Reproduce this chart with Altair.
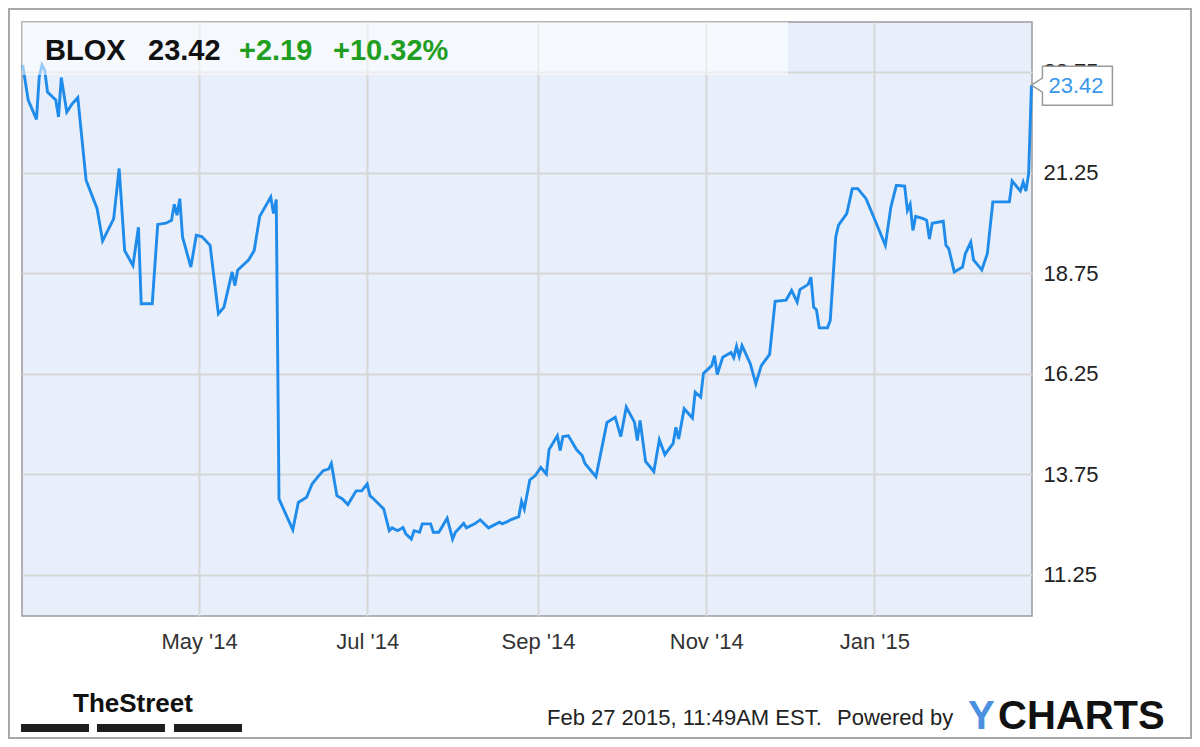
import altair as alt
import pandas as pd

# ---------------- data ----------------
TICKER = "BLOX"
LAST_PRICE = 23.42
CHANGE = 2.19
CHANGE_PCT = 10.32
TIMESTAMP = "Feb 27 2015, 11:49AM EST."
START = "2014-02-26"

DAYS = [0, 2, 5, 6, 7, 8, 9, 12, 13, 14,
        16, 18, 20, 23, 27, 29, 33, 35, 37, 40,
        42, 43, 47, 49, 52, 54, 55, 56, 57, 58,
        61, 63, 65, 68, 71, 73, 76, 77, 78, 82,
        84, 86, 90, 91, 92, 93, 98, 100, 103, 105,
        107, 109, 111, 112, 114, 116, 118, 121, 123, 125,
        126, 127, 131, 133, 134, 136, 138, 139, 141, 142,
        144, 145, 148, 149, 151, 154, 156, 157, 160, 161,
        164, 166, 169, 173, 174, 176, 177, 180, 181, 182,
        184, 186, 188, 190, 191, 194, 195, 196, 198, 201,
        203, 204, 208, 212, 215, 217, 219, 222, 223, 224,
        226, 229, 231, 233, 236, 237, 238, 240, 243, 244,
        246, 247, 250, 251, 252, 254, 257, 258, 259, 260,
        261, 264, 266, 268, 271, 273, 277, 279, 281, 282,
        285, 286, 287, 288, 289, 292, 293, 295, 296, 299,
        301, 303, 306, 310, 313, 315, 317, 320, 321, 322,
        323, 324, 327, 328, 329, 330, 334, 335, 336, 338,
        341, 342, 344, 345, 348, 350, 352, 358, 359, 362,
        363, 364, 365, 366]

PRICES = [23.92, 23.05, 22.57, 23.63, 23.92, 23.79, 23.25, 23.05, 22.63, 23.61,
          22.75, 22.96, 23.11, 21.06, 20.35, 19.55, 20.10, 21.35, 19.31, 18.94,
          19.89, 17.99, 17.99, 19.96, 19.99, 20.06, 20.46, 20.19, 20.60, 19.65,
          18.90, 19.69, 19.66, 19.44, 17.74, 17.90, 18.78, 18.44, 18.82, 19.08,
          19.31, 20.16, 20.64, 20.23, 20.58, 13.14, 12.37, 13.05, 13.18, 13.51,
          13.68, 13.84, 13.88, 14.02, 13.22, 13.14, 13.00, 13.34, 13.34, 13.51,
          13.22, 13.16, 12.89, 12.35, 12.42, 12.35, 12.43, 12.27, 12.14, 12.35,
          12.31, 12.52, 12.52, 12.31, 12.31, 12.66, 12.14, 12.31, 12.53, 12.42,
          12.52, 12.62, 12.42, 12.56, 12.52, 12.58, 12.62, 12.70, 13.08, 12.89,
          13.61, 13.72, 13.92, 13.76, 14.37, 14.71, 14.34, 14.69, 14.71, 14.36,
          14.22, 14.02, 13.69, 15.04, 15.17, 14.69, 15.42, 15.04, 14.59, 15.09,
          14.07, 13.82, 14.61, 14.24, 14.52, 14.92, 14.63, 15.38, 15.15, 15.79,
          15.67, 16.26, 16.45, 16.70, 16.23, 16.66, 16.78, 16.65, 16.93, 16.68,
          16.95, 16.50, 16.00, 16.45, 16.73, 18.05, 18.08, 18.32, 18.03, 18.34,
          18.47, 18.65, 17.90, 17.84, 17.39, 17.39, 17.57, 19.65, 19.94, 20.23,
          20.85, 20.85, 20.60, 19.94, 19.44, 20.39, 20.93, 20.91, 20.31, 20.46,
          19.81, 20.16, 20.10, 20.06, 19.60, 19.99, 20.04, 19.44, 19.36, 18.78,
          18.90, 19.23, 19.52, 19.08, 18.83, 19.23, 20.52, 20.52, 21.04, 20.79,
          21.01, 20.79, 21.22, 23.42]

Y_TICKS = [11.25, 13.75, 16.25, 18.75, 21.25, 23.75]
X_TICK_MONTHS = [(2014, 5), (2014, 7), (2014, 9), (2014, 11), (2015, 1)]

# ---------------- styling ----------------
FONT = "Liberation Sans, Arial, Helvetica, sans-serif"
LINE_BLUE = "#1f8beb"
GREEN = "#1f9e1f"

df = pd.DataFrame({
    "date": pd.Timestamp(START) + pd.to_timedelta(DAYS, unit="D"),
    "price": PRICES,
})
last = df.tail(1)
one = pd.DataFrame({"k": [0]})

x_enc = alt.X(
    "date:T",
    scale=alt.Scale(domain=[alt.DateTime(year=2014, month=2, date=25, hours=18),
                            alt.DateTime(year=2015, month=2, date=27, hours=5)]),
    axis=alt.Axis(
        values=[alt.DateTime(year=y, month=m, date=1) for y, m in X_TICK_MONTHS],
        format="%b '%y", title=None, ticks=False, domain=False,
        labelFontSize=22, labelColor="#333333", labelFont=FONT,
        labelPadding=15, labelOverlap=False, labelFlush=False,
        gridColor="#d6d6d6", gridWidth=2,
    ),
)
y_enc = alt.Y(
    "price:Q",
    scale=alt.Scale(domain=[10.23, 24.99], nice=False, zero=False),
    axis=alt.Axis(
        orient="right", values=Y_TICKS, format=".2f", title=None,
        ticks=False, domain=False, labelFontSize=22, labelColor="#222222",
        labelFont=FONT, labelPadding=11, labelOverlap=False, labelFlush=False,
        gridColor="#d6d6d6", gridWidth=2,
    ),
)

line = alt.Chart(df).mark_line(color=LINE_BLUE, strokeWidth=2.9).encode(x=x_enc, y=y_enc)

header_band = alt.Chart(one).mark_rect(fill="white", opacity=0.55).encode(
    x=alt.value(0), x2=alt.value(766), y=alt.value(0), y2=alt.value(53))

header_items = [
    (TICKER, 23, "#111111"),
    (f"{LAST_PRICE:.2f}", 126, "#111111"),
    (f"+{CHANGE:.2f}", 217, GREEN),
    (f"+{CHANGE_PCT:.2f}%", 311, GREEN),
]
header_texts = [
    alt.Chart(pd.DataFrame({"t": [txt]})).mark_text(
        font=FONT, fontSize=29, fontWeight="bold", color=col,
        align="left", baseline="alphabetic",
    ).encode(x=alt.value(xp), y=alt.value(38), text="t:N")
    for txt, xp, col in header_items
]

callout_box = alt.Chart(last).mark_point(
    shape="M0,0 L11,-7 L11,-19 L81,-19 L81,20 L11,20 L11,7 Z",
    size=4, filled=True, fill="white", stroke="#9a9a9a", strokeWidth=1.5, opacity=1,
).encode(x=x_enc, y=y_enc)

callout_text = alt.Chart(last).mark_text(
    font=FONT, fontSize=22, color="#3a98ec", align="left", baseline="middle", dx=17, dy=1,
).encode(x=x_enc, y=y_enc, text=alt.Text("price:Q", format=".2f"))

street = alt.Chart(pd.DataFrame({"t": ["TheStreet"]})).mark_text(
    font=FONT, fontSize=26, fontWeight="bold", color="#111111",
    align="left", baseline="alphabetic",
).encode(x=alt.value(51), y=alt.value(690), text="t:N")

bars = [
    alt.Chart(one).mark_rect(fill="#1e1e1e").encode(
        x=alt.value(a), x2=alt.value(b), y=alt.value(702), y2=alt.value(710))
    for a, b in [(-1, 67), (75, 143), (152, 220)]
]

stamp = alt.Chart(pd.DataFrame({"t": [TIMESTAMP]})).mark_text(
    font=FONT, fontSize=22, color="#222222", align="left", baseline="middle",
).encode(x=alt.value(525), y=alt.value(696), text="t:N")

powered = alt.Chart(pd.DataFrame({"t": ["Powered by"]})).mark_text(
    font=FONT, fontSize=22, color="#222222", align="left", baseline="middle",
).encode(x=alt.value(815), y=alt.value(696), text="t:N")

logo_y = alt.Chart(pd.DataFrame({"t": ["Y"]})).mark_text(
    font=FONT, fontSize=40, fontWeight="bold", color="#4a8fe0",
    align="left", baseline="middle",
).encode(x=alt.value(946), y=alt.value(695), text="t:N")

logo_rest = alt.Chart(pd.DataFrame({"t": ["CHARTS"]})).mark_text(
    font=FONT, fontSize=40, fontWeight="bold", color="#111111",
    align="left", baseline="middle",
).encode(x=alt.value(976), y=alt.value(695), text="t:N")

frame = alt.Chart(one).mark_rect(fill="transparent", stroke="#a8a8a8", strokeWidth=2).encode(
    x=alt.value(-13), x2=alt.value(1169), y=alt.value(-13), y2=alt.value(716))

chart = alt.layer(
    line, header_band, *header_texts, callout_box, callout_text,
    street, *bars, stamp, powered, logo_y, logo_rest, frame,
).properties(
    width=1010, height=594,
    autosize=alt.AutoSizeParams(type="none"),
    padding={"left": 14, "top": 14, "right": 160, "bottom": 123},
    background="white",
).configure_view(
    fill="#e8effb", stroke="#9a9a9a", strokeWidth=1.5,
)

chart.save("out.html", embed_options={"renderer": "svg", "actions": False})
